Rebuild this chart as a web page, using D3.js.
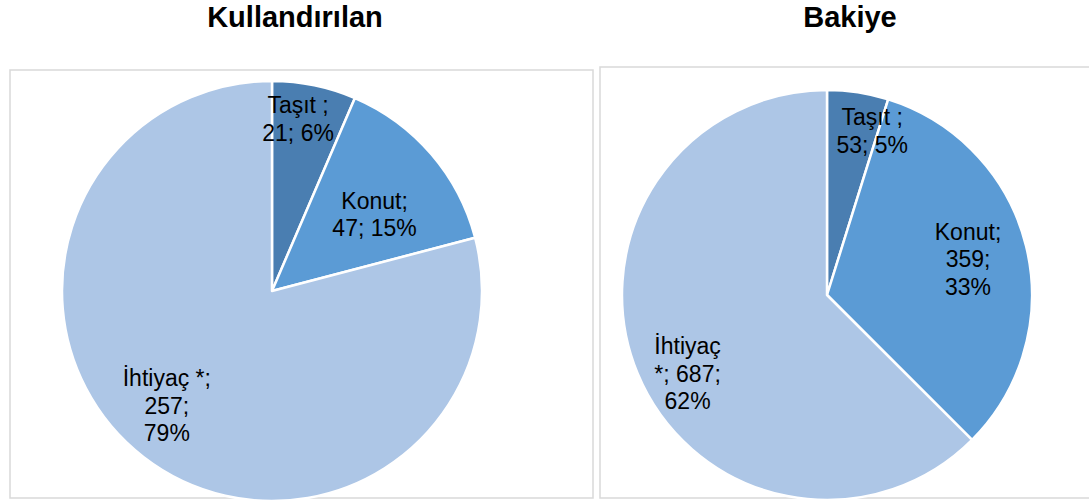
<!DOCTYPE html>
<html><head><meta charset="utf-8">
<script src="https://cdn.jsdelivr.net/npm/d3@7"></script>
<style>body{margin:0;background:#fff}svg{display:block}</style>
</head><body>
<svg id="c" width="1089" height="501"></svg>
<script>
// ---- data ----
const titles = ["Kullandırılan", "Bakiye"];
const categories = ["Taşıt ", "Konut", "İhtiyaç *"];
const kullandirilanValues = [21, 47, 257];
const kullandirilanPercents = [6, 15, 79];
const bakiyeValues = [53, 359, 687];
const bakiyePercents = [5, 33, 62];
const colors = ["#4a7eb1", "#5b9bd5", "#adc6e6"];

// ---- layout ----
const panels = [
  { title: titles[0], values: kullandirilanValues, pcts: kullandirilanPercents,
    box: [10, 70, 583, 428], titleX: 295, cx: 272, cy: 291, r: 210,
    labels: [[8.6, 0.83], [53.2, 0.61], [222.6, 0.74]],
    wrap: [[2, 2], [1, 2], [2, 1, 1]] },
  { title: titles[1], values: bakiyeValues, pcts: bakiyePercents,
    box: [600, 67, 500, 431], titleX: 850, cx: 827, cy: 295, r: 205,
    labels: [[15.4, 0.83], [75.7, 0.71], [240.7, 0.78]],
    wrap: [[2, 2], [1, 1, 1], [1, 2, 1]] }
];
const FONT = "Liberation Sans, Arial, sans-serif";
const lh = 27.6, fs = 23;

const svg = d3.select("#c");
panels.forEach(p => {
  svg.append("rect").attr("x", p.box[0]).attr("y", p.box[1])
    .attr("width", p.box[2]).attr("height", p.box[3])
    .attr("fill", "#fff").attr("stroke", "#d9d9d9").attr("stroke-width", 1.5);
  svg.append("text").attr("x", p.titleX).attr("y", 27)
    .attr("text-anchor", "middle").attr("font-family", FONT)
    .attr("font-weight", "bold").attr("font-size", 29).text(p.title);

  const pie = d3.pie().sort(null).value(d => d)(p.values);
  const arc = d3.arc().innerRadius(0).outerRadius(p.r);
  const g = svg.append("g").attr("transform", `translate(${p.cx},${p.cy})`);
  g.selectAll("path").data(pie).join("path")
    .attr("d", arc).attr("fill", (d, i) => colors[i])
    .attr("stroke", "#fff").attr("stroke-width", 2.5).attr("stroke-linejoin", "round");

  pie.forEach((d, i) => {
    const words = (categories[i] + "; " + p.values[i] + "; " + p.pcts[i] + "%")
      .split(" ").filter(w => w.length);
    const lines = []; let k = 0;
    p.wrap[i].forEach(n => { lines.push(words.slice(k, k + n).join(" ")); k += n; });
    const [ang, rf] = p.labels[i];
    const a = ang * Math.PI / 180, rr = rf * p.r;
    const lx = Math.sin(a) * rr, ly = -Math.cos(a) * rr;
    const t = g.append("text").attr("text-anchor", "middle")
      .attr("font-family", FONT).attr("font-size", fs).attr("fill", "#000");
    lines.forEach((ln, j) => {
      t.append("tspan").attr("x", lx)
        .attr("y", ly - (lines.length - 1) * lh / 2 + j * lh + fs * 0.36).text(ln);
    });
  });
});
</script>
</body></html>
